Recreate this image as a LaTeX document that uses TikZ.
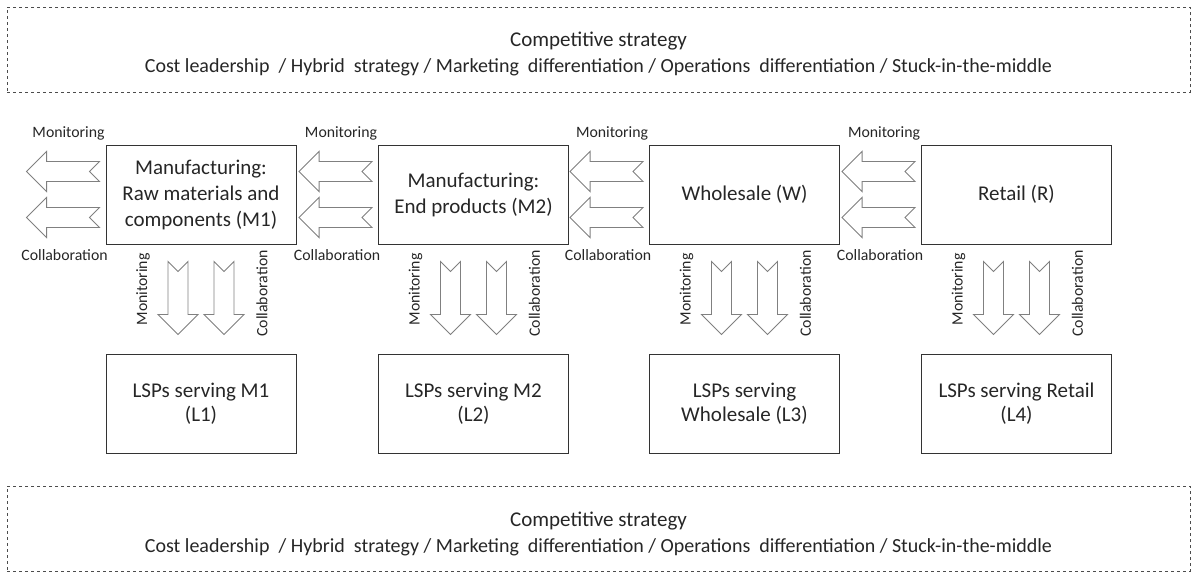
\documentclass[tikz,border=0pt]{standalone}
\usepackage{fontspec}
\setmainfont{Carlito}
\usetikzlibrary{positioning,calc}

\newcommand{\strategyline}{Cost leadership\ \ / Hybrid\ \ strategy / Marketing\ \ differentiation / Operations\ \ differentiation / Stuck-in-the-middle}

\begin{document}
\begin{tikzpicture}[
    x=1pt,y=-1pt,
    stage/.style={draw=black!80,line width=0.9pt,minimum width=190pt,
      minimum height=99pt,align=center,inner sep=2pt,text=black!85,
      font=\fontsize{21}{26}\selectfont},
    provider/.style={stage,font=\fontsize{21}{24}\selectfont},
    strategy/.style={draw=black!70,dashed,line width=0.7pt,
      minimum width=1183pt,minimum height=85pt},
    strategytext/.style={align=center,text=black!85,inner sep=0pt,
      font=\fontsize{21}{26}\selectfont},
    flowlabel/.style={font=\fontsize{15.8}{18}\selectfont,text=black!85,
      inner sep=0pt},
    hollow/.style={draw=black!50,line width=0.9pt,fill=white,line join=miter},
    blockarrow/.pic={
      \draw[hollow] (0,0) -- (20,-20) -- (20,-10) -- (73,-10) -- (63,0)
        -- (73,10) -- (20,10) -- (20,20) -- cycle;
    }
  ]
    \useasboundingbox (0,0) rectangle (1196,575);

    % Strategy frames, top and bottom.
    \node[strategy] (topframe) at (598.5,50) {};
    \node[strategytext] (toptext) at ($(topframe.center)+(0,4)$)
      {Competitive strategy\\{\fontsize{20}{24}\selectfont\strategyline}};
    \node[strategy] (botframe) at (598.5,528.5) {};
    \node[strategytext] (bottext) at ($(botframe.center)+(0,5)$)
      {Competitive strategy\\{\fontsize{20}{24}\selectfont\strategyline}};

    % Supply chain stages.
    \node[stage] (m1) at (201,194.5) {Manufacturing:\\Raw materials and\\components (M1)};
    \node[stage] (m2) at (473.5,194.5) {Manufacturing:\\End products (M2)};
    \node[stage] (w) at (744.5,194.5) {Wholesale (W)};
    \node[stage] (r) at (1016.5,194.5) {Retail (R)};

    % Logistics service providers.
    \node[provider] (l1) at (201,403.5) {LSPs serving M1\\(L1)};
    \node[provider] (l2) at (473.5,403.5) {LSPs serving M2\\(L2)};
    \node[provider] (l3) at (744.5,403.5) {LSPs serving\\Wholesale (L3)};
    \node[provider] (l4) at (1016.5,403.5) {LSPs serving Retail\\(L4)};

    % Monitoring and collaboration arrows.
    \foreach \s in {m1,m2,w,r} {
      \pic at ($(\s.west)+(-79,-23)$) {blockarrow};
      \pic at ($(\s.west)+(-79,23)$) {blockarrow};
      \pic[rotate=90] at ($(\s.south)+(-23,90)$) {blockarrow};
      \pic[rotate=90] at ($(\s.south)+(23,90)$) {blockarrow};
      \node[flowlabel] (hmon-\s) at ($(\s.north west)+(-37,-11)$) {Monitoring};
      \node[flowlabel] (hcol-\s) at ($(\s.south west)+(-41,11)$) {Collaboration};
      \node[flowlabel,rotate=90] (vmon-\s) at ($(\s.south)+(-58,45)$) {Monitoring};
      \node[flowlabel,rotate=90] (vcol-\s) at ($(\s.south)+(61,49)$) {Collaboration};
    }
  \end{tikzpicture}
\end{document}
